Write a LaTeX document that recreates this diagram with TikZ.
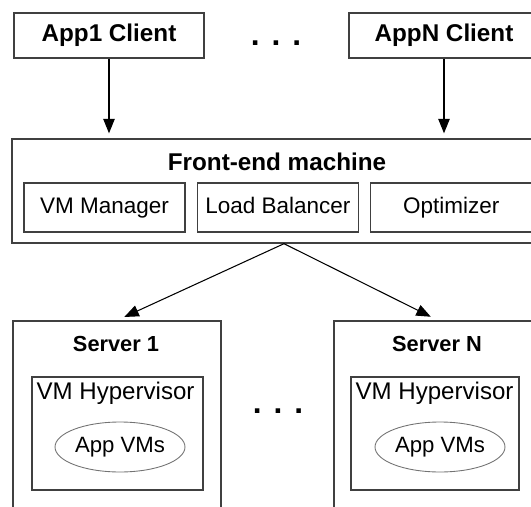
\documentclass[tikz,border=0pt]{standalone}
\usepackage{fontspec}
\setmainfont{Liberation Sans}
\usepackage{tikz}
\usetikzlibrary{positioning,shapes.geometric,arrows.meta,calc}

\begin{document}
\begin{tikzpicture}[x=0.02cm, y=-0.02cm,
    box/.style={draw=black!75, line width=0.8pt, rectangle, inner sep=0pt},
    part/.style={box, minimum width=3.22cm, minimum height=0.98cm, text height=0.72em, text depth=0em, font=\fontsize{12.8}{15}\selectfont},
    vmbox/.style={draw=black!55, line width=0.5pt, ellipse, minimum width=2.6cm, minimum height=1cm, inner sep=0pt, font=\fontsize{12.6}{15}\selectfont},
    dots/.style={inner sep=0pt, anchor=base, font=\fontsize{18}{18}\selectfont\bfseries},
    arr/.style={-{Triangle[length=0.29cm, width=0.23cm]}, line width=0.6pt}]
    \useasboundingbox (0,0) rectangle (531,507);
    \clip (0,0) rectangle (531,507);

    % clients
    \node[box, minimum width=3.8cm, minimum height=0.9cm, font=\fontsize{13.8}{16}\selectfont\bfseries] (app1) at (109,35.5) {App1 Client};
    \node[box, minimum width=3.8cm, minimum height=0.9cm, font=\fontsize{13.8}{16}\selectfont\bfseries] (appn) at (444,35.5) {AppN Client};
    \node[dots] (topdots) at (276,45) {.\hspace{0.24cm}.\hspace{0.24cm}.};

    % front-end
    \node[box, minimum width=10.88cm, minimum height=2.08cm] (front) at (284,191) {};
    \node[inner sep=0pt, font=\fontsize{13.8}{16}\selectfont\bfseries] (fetitle) at (277,162) {Front-end machine};
    \node[part] (vmm) at (104.5,207.5) {VM Manager};
    \node[part, right=0.22cm of vmm] (lb) {Load Balancer};
    \node[part, right=0.22cm of lb] (opt) {Optimizer};

    % servers
    \node[box, minimum width=4.16cm, minimum height=4.78cm] (serv1) at (117,440.5) {};
    \node[box, minimum width=4.16cm, minimum height=4.78cm] (servn) at (438,440.5) {};
    \node[inner sep=0pt, font=\fontsize{12.4}{15}\selectfont\bfseries] (s1title) at (116,344) {Server 1};
    \node[inner sep=0pt, font=\fontsize{12.4}{15}\selectfont\bfseries] (sntitle) at (437,344) {Server N};

    \node[box, minimum width=3.42cm, minimum height=2.26cm] (hyp1) at (117.5,433.5) {};
    \node[box, minimum width=3.36cm, minimum height=2.26cm] (hypn) at (435,433.5) {};
    \node[inner sep=0pt, anchor=north west, xshift=0.1cm, yshift=-0.11cm, font=\fontsize{13.7}{16}\selectfont] (hyp1lbl) at (hyp1.north west) {VM Hypervisor};
    \node[inner sep=0pt, anchor=north west, xshift=0.1cm, yshift=-0.11cm, font=\fontsize{13.7}{16}\selectfont] (hypnlbl) at (hypn.north west) {VM Hypervisor};
    \node[vmbox] (vms1) at (120,447) {App VMs};
    \node[vmbox] (vmsn) at (440,447) {App VMs};

    \node[dots] (middots) at (278,413) {.\hspace{0.24cm}.\hspace{0.24cm}.};

    % connectors
    \draw[arr, shorten >=0.1cm] (app1.south) -- (app1.south |- front.north);
    \draw[arr, shorten >=0.1cm] (appn.south) -- (appn.south |- front.north);
    \draw[arr, shorten >=0.16cm] (front.south) -- (serv1.north);
    \draw[arr, shorten >=0.16cm] (front.south) -- (servn.north);
\end{tikzpicture}
\end{document}
